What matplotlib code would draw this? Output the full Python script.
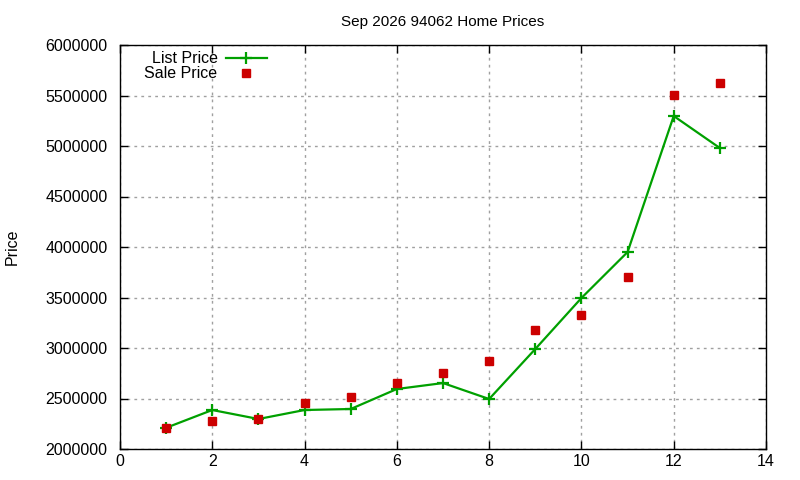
import matplotlib
matplotlib.use("Agg")
import matplotlib.pyplot as plt

months = [1, 2, 3, 4, 5, 6, 7, 8, 9, 10, 11, 12, 13]
list_price = [2210000, 2386000, 2297000, 2386000, 2396000, 2594000, 2653000,
              2495000, 2990000, 3495000, 3950000, 5297000, 4980000]
sale_price = [2208000, 2280000, 2300000, 2458000, 2518000, 2656000, 2755000,
              2873000, 3180000, 3330000, 3706000, 5505000, 5624000]

plt.rcParams["font.family"] = ["Liberation Sans", "DejaVu Sans"]
plt.rcParams["font.size"] = 11.5

fig = plt.figure(figsize=(8, 4.8), dpi=100)
ax = fig.add_axes([120 / 800, 31 / 480, 646 / 800, 404 / 480])

ax.plot(months, list_price, color="#00a000", lw=1.6, marker="+", ms=9, mew=1.6,
        label="List Price")
ax.plot(months, sale_price, ls="none", marker="s", ms=5.8, color="#cc0000",
        label="Sale Price")

ax.set_xlim(0, 14)
ax.set_ylim(2000000, 6000000)
ax.set_xticks(range(0, 15, 2))
ax.set_yticks(range(2000000, 6000001, 500000))
ax.ticklabel_format(style="plain", axis="y", useOffset=False)
ax.tick_params(direction="in", top=True, right=True, length=6, width=1)
ax.tick_params(axis="y", pad=9)
ax.grid(True, color="#a0a0a0", ls=(0, (2, 3)), lw=1)
for s in ax.spines.values():
    s.set_linewidth(1)

ax.set_title("Sep 2026 94062 Home Prices", fontsize=11, pad=14)
ax.set_ylabel("Price", labelpad=18)

ax.legend(loc="upper left", markerfirst=False, frameon=False, handlelength=2.6,
          handletextpad=0.5, borderaxespad=0.0, labelspacing=0.0,
          bbox_to_anchor=(0.028, 1.0))

fig.savefig("out.png", dpi=100)
